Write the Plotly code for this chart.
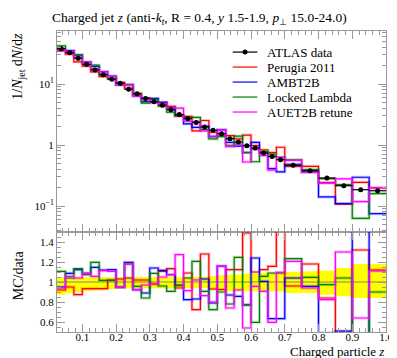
import plotly.graph_objects as go

# ---------------- data ----------------
bin_edges = [0.025, 0.05, 0.075, 0.1, 0.125, 0.15, 0.175, 0.2, 0.225, 0.25, 0.275,
             0.3, 0.325, 0.35, 0.375, 0.4, 0.425, 0.45, 0.475, 0.5, 0.525, 0.55,
             0.575, 0.6, 0.625, 0.65, 0.675, 0.7, 0.75, 0.8, 0.85, 0.9, 0.95, 1.0]

atlas_data = [38, 32.5, 26.5, 21, 17, 14.2, 12, 10.3, 8.2, 6.9, 5.8, 5.1, 4.5, 3.8,
              3.15, 2.7, 2.35, 1.97, 1.74, 1.53, 1.27, 1.12, 0.975, 0.89, 0.74, 0.65,
              0.574, 0.465, 0.379, 0.288, 0.215, 0.185, 0.178]
atlas_err_rel_up = [0.047, 0.045, 0.045, 0.045, 0.045, 0.045, 0.047, 0.047, 0.047, 0.047,
                    0.047, 0.047, 0.047, 0.047, 0.047, 0.05, 0.05, 0.05, 0.06, 0.07, 0.073,
                    0.075, 0.08, 0.085, 0.09, 0.09, 0.09, 0.1, 0.107, 0.113, 0.14, 0.18, 0.18]
atlas_err_rel_dn = [0.127, 0.11, 0.1, 0.09, 0.085, 0.08, 0.07, 0.065, 0.06, 0.06, 0.06,
                    0.06, 0.06, 0.06, 0.06, 0.06, 0.06, 0.06, 0.08, 0.09, 0.093, 0.093,
                    0.093, 0.093, 0.093, 0.095, 0.095, 0.11, 0.11, 0.127, 0.143, 0.16, 0.16]

perugia_ratio = [0.92, 0.95, 0.873, 0.933, 0.933, 0.933, 1.02, 1.03, 1.04, 1.02, 1.02,
                 0.98, 1.107, 1.133, 0.94, 1.09, 0.723, 1.28, 0.93, 0.925, 1.123, 1.123,
                 1.49, 1.10, 1.123, 1.157, 1.6, 0.96, 1.18, 0.84, 0.5, 1.32, 1.12]
ambt2b_ratio = [0.95, 1.087, 1.123, 1.087, 1.147, 1.12, 1.123, 0.947, 1.197, 0.923, 0.89,
                1.14, 1.117, 1.073, 0.967, 0.823, 0.83, 1.03, 0.79, 1.16, 0.87, 0.857,
                0.77, 1.24, 1.007, 0.633, 0.633, 1.04, 0.957, 0.49, 0.51, 1.6, 0.42]
locked_ratio = [1.107, 1.04, 1.133, 1.073, 1.197, 1.017, 1.017, 0.947, 1.18, 0.957, 0.84,
                1.087, 0.96, 0.907, 0.967, 1.04, 1.207, 0.907, 0.723, 0.9, 0.78, 1.247,
                0.773, 0.597, 1.057, 1.09, 1.09, 1.233, 1.047, 0.973, 1.04, 0.34, 0.9]
auet2b_ratio = [0.94, 1.057, 1.04, 1.087, 1.057, 1.113, 1.107, 0.947, 1.18, 0.923, 0.97,
                0.98, 1.05, 1.073, 1.273, 0.913, 1.02, 0.863, 0.8, 1.157, 0.74, 0.92,
                0.54, 0.957, 0.907, 0.597, 1.097, 1.207, 0.94, 0.823, 1.3, 0.64, 1.11]

series_names = ["Perugia 2011", "AMBT2B", "Locked Lambda", "AUET2B retune"]
series_colors = ["#ff0000", "#0000ff", "#008000", "#ff00ff"]
series_pale = ["rgba(255,0,0,0.25)", "rgba(0,0,255,0.25)", "rgba(0,128,0,0.25)",
               "rgba(255,0,255,0.25)"]
series_ratios = [perugia_ratio, ambt2b_ratio, locked_ratio, auet2b_ratio]
legend_labels = ["ATLAS data"] + series_names
legend_colors = ["black"] + series_colors

title_text = ("Charged jet <i>z</i> (anti-<i>k</i><sub><i>t</i></sub>, R = 0.4, "
              "<i>y</i> 1.5-1.9, <i>p</i><sub>⊥</sub> 15.0-24.0)")

# ---------------- helpers ----------------
n = len(atlas_data)
centers = [(bin_edges[i] + bin_edges[i + 1]) / 2 for i in range(n)]
halfw = [(bin_edges[i + 1] - bin_edges[i]) / 2 for i in range(n)]


def step_y(vals):
    return list(vals) + [vals[-1]]


FONT = "Liberation Serif"
fig = go.Figure()

# yellow data band in ratio
bx, by = [], []
for i in range(n):
    bx += [bin_edges[i], bin_edges[i + 1]]
    by += [1 + atlas_err_rel_up[i], 1 + atlas_err_rel_up[i]]
for i in reversed(range(n)):
    bx += [bin_edges[i + 1], bin_edges[i]]
    by += [1 - atlas_err_rel_dn[i], 1 - atlas_err_rel_dn[i]]
fig.add_trace(go.Scatter(x=bx, y=by, fill="toself", fillcolor="#ffff00",
                         line=dict(width=0), mode="lines", showlegend=False,
                         hoverinfo="skip", xaxis="x2", yaxis="y2"))
fig.add_trace(go.Scatter(x=[bin_edges[0], bin_edges[-1]], y=[1, 1], mode="lines",
                         line=dict(color="#888866", width=1), showlegend=False,
                         xaxis="x2", yaxis="y2"))

# MC curves
for name, col, pale, rat in zip(series_names, series_colors, series_pale, series_ratios):
    mc = [r * d for r, d in zip(rat, atlas_data)]
    for vals, ax, ay in [(mc, "x", "y"), (rat, "x2", "y2")]:
        fig.add_trace(go.Scatter(x=bin_edges, y=step_y(vals), mode="lines",
                                 line=dict(color=pale, width=3, shape="hv"),
                                 showlegend=False, hoverinfo="skip", xaxis=ax, yaxis=ay))
        fig.add_trace(go.Scatter(x=bin_edges, y=step_y(vals), mode="lines",
                                 line=dict(color=col, width=1.2, shape="hv"),
                                 name=name, showlegend=False, xaxis=ax, yaxis=ay))

# data points
err_up = [d * e * 0.35 for d, e in zip(atlas_data, atlas_err_rel_up)]
fig.add_trace(go.Scatter(x=centers, y=atlas_data, mode="markers", name="ATLAS data",
                         marker=dict(color="black", size=5),
                         error_x=dict(type="data", array=halfw, color="black", width=0, thickness=1.2),
                         error_y=dict(type="data", array=err_up, color="black", width=0, thickness=1.2),
                         showlegend=False, xaxis="x", yaxis="y"))

# legend (drawn as key lines + text in the top panel's frame)
LOWER = 100 / 301
leg_x0, leg_x1, leg_tx = 0.534, 0.609, 0.633
leg_y0, leg_dy = 0.930, 0.0498
shapes = []
annotations = []
for k, (lab, col) in enumerate(zip(legend_labels, legend_colors)):
    yy = leg_y0 - k * leg_dy
    shapes.append(dict(type="line", xref="paper", yref="paper", x0=leg_x0, x1=leg_x1,
                       y0=yy, y1=yy, line=dict(color=col, width=1.2)))
    if k == 0:
        shapes.append(dict(type="circle", xref="paper", yref="paper", xsizemode="pixel",
                           ysizemode="pixel", xanchor=(leg_x0 + leg_x1) / 2, yanchor=yy,
                           x0=-2.5, x1=2.5, y0=-2.5, y1=2.5, fillcolor="black",
                           line=dict(color="black", width=0)))
    annotations.append(dict(text=lab, xref="paper", yref="paper", x=leg_tx, y=yy,
                            xanchor="left", yanchor="middle", showarrow=False,
                            font=dict(family=FONT, size=13)))

annotations += [
    dict(text=title_text, xref="paper", yref="paper", x=-0.022, y=1.0, xanchor="left",
         yanchor="bottom", yshift=2, showarrow=False, font=dict(family=FONT, size=13.5)),
    dict(text="1/<i>N</i><sub>jet</sub> d<i>N</i>/d<i>z</i>", xref="paper", yref="paper",
         x=-0.118, y=1.0, xanchor="center", yanchor="top", textangle=-90, showarrow=False,
         font=dict(family=FONT, size=14)),
    dict(text="MC/data", xref="paper", yref="paper", x=-0.118, y=0.189,
         xanchor="center", yanchor="middle", textangle=-90, showarrow=False,
         font=dict(family=FONT, size=14)),
    dict(text="Charged particle <i>z</i>", xref="paper", yref="paper", x=1.0, y=0,
         xanchor="right", yanchor="middle", yshift=-19, showarrow=False,
         font=dict(family=FONT, size=13)),
]

axis_common = dict(showline=True, linecolor="#999999", linewidth=1, mirror="allticks",
                   ticks="inside", tickcolor="#999999", showgrid=False, zeroline=False,
                   tickfont=dict(family=FONT, size=11, color="black"))

fig.update_layout(
    width=397, height=358,
    margin=dict(l=49, r=13, t=23, b=34),
    paper_bgcolor="white", plot_bgcolor="white",
    font=dict(family=FONT, size=12, color="black"),
    showlegend=False,
    xaxis=dict(domain=[0, 1], range=[0.025, 1.0], anchor="y", matches="x2",
               showticklabels=False, dtick=0.1, tick0=0, ticklen=8,
               minor=dict(dtick=0.02, ticklen=4, ticks="inside", tickcolor="#999999"),
               **axis_common),
    yaxis=dict(domain=[LOWER, 1], type="log", range=[-1.426, 1.869], anchor="x",
               tickvals=[0.1, 1, 10], ticktext=["10<sup>−1</sup>", "1", "10<sup>1</sup>"],
               ticklen=8, minor=dict(ticklen=4, ticks="inside", tickcolor="#999999", dtick="D1"),
               **axis_common),
    xaxis2=dict(domain=[0, 1], range=[0.025, 1.0], anchor="y2",
                dtick=0.1, tick0=0, ticklen=8, tickformat=".1f",
                minor=dict(dtick=0.02, ticklen=4, ticks="inside", tickcolor="#999999"),
                **axis_common),
    yaxis2=dict(domain=[0, LOWER], range=[0.5, 1.5], anchor="x2",
                tickvals=[0.6, 0.8, 1.0, 1.2, 1.4], ticktext=["0.6", "0.8", "1", "1.2", "1.4"],
                ticklen=8, minor=dict(dtick=0.05, ticklen=4, ticks="inside", tickcolor="#999999"),
                **axis_common),
    shapes=shapes,
    annotations=annotations,
)

try:
    fig.update_layout(xaxis2=dict(ticklabelstandoff=-5))
except Exception:
    pass

fig.write_html("out.html")
